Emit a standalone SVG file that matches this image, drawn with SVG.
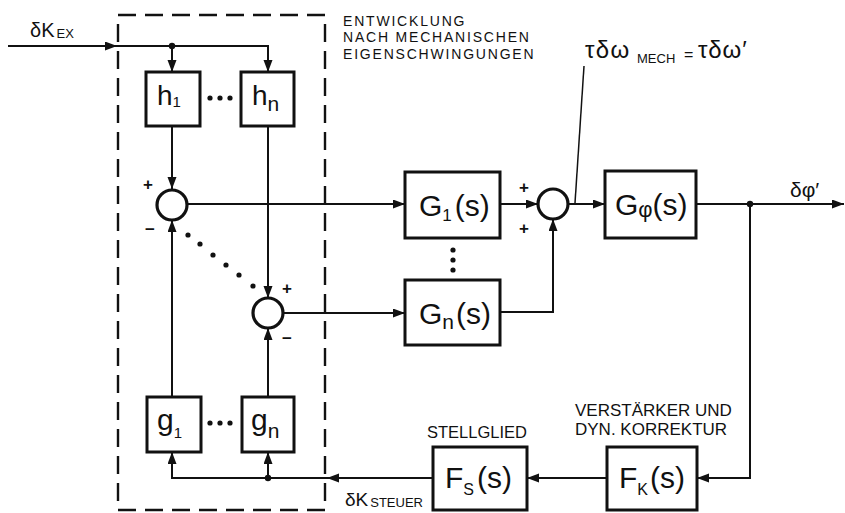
<svg xmlns="http://www.w3.org/2000/svg" width="845" height="513" viewBox="0 0 845 513">
<style>
.ln{fill:none;stroke:#111;stroke-width:2}
.box{fill:#fff;stroke:#111;stroke-width:3}
.sum{fill:#fff;stroke:#111;stroke-width:3.2}
.dash{fill:none;stroke:#111;stroke-width:2.4;stroke-dasharray:18 9}
.dot{fill:#111}
.t{font-family:"Liberation Sans",Arial,sans-serif;fill:#111}
.big{font-size:30px}
.sg{font-family:"Liberation Sans",Arial,sans-serif;font-size:17px;font-weight:bold;fill:#111;text-anchor:middle}
.hd{font-size:14px;letter-spacing:1.8px}
</style>
<defs>
<marker id="ar" markerUnits="userSpaceOnUse" markerWidth="13" markerHeight="10" refX="12" refY="4.5" orient="auto">
<path d="M0,0 L12,4.5 L0,9 z" fill="#111"/>
</marker>
</defs>
<rect x="0" y="0" width="845" height="513" fill="#fff"/>

<g id="dashed-frame">
<rect class="dash" x="118" y="15" width="207" height="495"/>
</g>

<g id="connectors">
<path class="ln" d="M8,46 H117" marker-end="url(#ar)"/>
<path class="ln" d="M117,46 H268 V72" marker-end="url(#ar)"/>
<path class="ln" d="M172,46 V72" marker-end="url(#ar)"/>
<path class="ln" d="M172,126 V189" marker-end="url(#ar)"/>
<path class="ln" d="M268,126 V298" marker-end="url(#ar)"/>
<path class="ln" d="M172,397 V220" marker-end="url(#ar)"/>
<path class="ln" d="M268,397 V328" marker-end="url(#ar)"/>
<path class="ln" d="M187,204 H405" marker-end="url(#ar)"/>
<path class="ln" d="M283,313 H405" marker-end="url(#ar)"/>
<path class="ln" d="M500,204 H538" marker-end="url(#ar)"/>
<path class="ln" d="M500,312 H553 V219" marker-end="url(#ar)"/>
<path class="ln" d="M568,204 H605" marker-end="url(#ar)"/>
<path class="ln" d="M584,66 L575,203" style="stroke-width:1.5"/>
<path class="ln" d="M696,204 H844" marker-end="url(#ar)"/>
<path class="ln" d="M750,204 V478 H697" marker-end="url(#ar)"/>
<path class="ln" d="M607,478 H527" marker-end="url(#ar)"/>
<path class="ln" d="M433,478 H327" marker-end="url(#ar)"/>
<path class="ln" d="M327,478 H172 V452" marker-end="url(#ar)"/>
<path class="ln" d="M268,478 V452" marker-end="url(#ar)"/>
<circle class="dot" cx="172" cy="46" r="3.2"/>
<circle class="dot" cx="750" cy="204" r="3.2"/>
<circle class="dot" cx="268" cy="478" r="3.2"/>
</g>

<g id="h1"><rect class="box" x="146" y="72" width="54" height="54"/>
<text class="t" x="157" y="105" font-size="28">h<tspan font-size="15" dy="2">1</tspan></text></g>
<g id="hn"><rect class="box" x="241" y="72" width="53" height="54"/>
<text class="t" x="252" y="105" font-size="28">h<tspan font-size="21" dy="6">n</tspan></text></g>
<g id="h-dots"><circle class="dot" cx="210" cy="98" r="2.6"/><circle class="dot" cx="220" cy="98" r="2.6"/><circle class="dot" cx="230" cy="98" r="2.6"/></g>

<g id="sum1"><circle class="sum" cx="172" cy="205" r="15"/>
<text class="sg" x="148" y="190">+</text><text class="sg" x="150" y="235">−</text></g>
<g id="sum2"><circle class="sum" cx="268" cy="313" r="15"/>
<text class="sg" x="287" y="294">+</text><text class="sg" x="287" y="344">−</text></g>
<g id="diag-dots">
<circle class="dot" cx="188" cy="235" r="2.6"/><circle class="dot" cx="200" cy="244" r="2.6"/><circle class="dot" cx="213" cy="255" r="2.6"/>
<circle class="dot" cx="226" cy="265" r="2.6"/><circle class="dot" cx="239" cy="275" r="2.6"/><circle class="dot" cx="253" cy="286" r="2.6"/>
</g>

<g id="g1"><rect class="box" x="147" y="397" width="54" height="55"/>
<text class="t" x="157" y="430" font-size="30">g<tspan font-size="15" dy="8">1</tspan></text></g>
<g id="gn"><rect class="box" x="242" y="397" width="52" height="55"/>
<text class="t" x="251" y="430" font-size="30">g<tspan font-size="21" dy="8">n</tspan></text></g>
<g id="g-dots"><circle class="dot" cx="210" cy="423" r="2.6"/><circle class="dot" cx="220" cy="423" r="2.6"/><circle class="dot" cx="230" cy="423" r="2.6"/></g>

<g id="G1"><rect class="box" x="405" y="172" width="95" height="66"/>
<text class="t big" x="419" y="216">G<tspan font-size="17" dy="5">1</tspan><tspan dx="3" dy="-5">(s)</tspan></text></g>
<g id="Gn"><rect class="box" x="405" y="280" width="95" height="65"/>
<text class="t big" x="419" y="324">G<tspan font-size="21" dy="5">n</tspan><tspan dx="2" dy="-5">(s)</tspan></text></g>
<g id="G-dots"><circle class="dot" cx="453" cy="250" r="2.6"/><circle class="dot" cx="453" cy="260" r="2.6"/><circle class="dot" cx="453" cy="270" r="2.6"/></g>

<g id="sum3"><circle class="sum" cx="553" cy="204" r="15"/>
<text class="sg" x="524" y="193">+</text><text class="sg" x="524" y="234">+</text></g>

<g id="Gphi"><rect class="box" x="605" y="171" width="91" height="67"/>
<text class="t big" x="615" y="215">G<tspan font-size="22" dy="2">φ</tspan><tspan dy="-2">(s)</tspan></text></g>

<g id="FK"><rect class="box" x="607" y="447" width="90" height="63"/>
<text class="t big" x="619" y="488">F<tspan font-size="16" dy="7">K</tspan><tspan dx="2" dy="-7">(s)</tspan></text></g>
<g id="FS"><rect class="box" x="433" y="447" width="94" height="63"/>
<text class="t big" x="445" y="488">F<tspan font-size="16" dy="7">S</tspan><tspan dx="3" dy="-7">(s)</tspan></text></g>

<g id="labels">
<text class="t hd" x="343" y="25.5">ENTWICKLUNG</text>
<text class="t hd" x="343" y="42">NACH MECHANISCHEN</text>
<text class="t hd" x="343" y="58.5">EIGENSCHWINGUNGEN</text>
<text class="t" x="30" y="37" font-size="20">δK<tspan font-size="13" dx="2" dy="1">EX</tspan></text>
<text class="t" x="345" y="506" font-size="19">δK<tspan font-size="13" dx="2" dy="1">STEUER</tspan></text>
<text class="t" x="585" y="58" font-size="24" letter-spacing="1.5">τδω</text>
<text class="t" x="637" y="63" font-size="13">MECH</text>
<text class="t" x="684" y="60" font-size="16">=</text>
<text class="t" x="698" y="58" font-size="24" letter-spacing="1">τδω′</text>
<text class="t" x="790" y="197" font-size="21">δφ′</text>
<text class="t" x="427" y="438" font-size="16.5">STELLGLIED</text>
<text class="t" x="575" y="416" font-size="17">VERSTÄRKER UND</text>
<text class="t" x="575" y="435" font-size="17">DYN. KORREKTUR</text>
</g>
</svg>
